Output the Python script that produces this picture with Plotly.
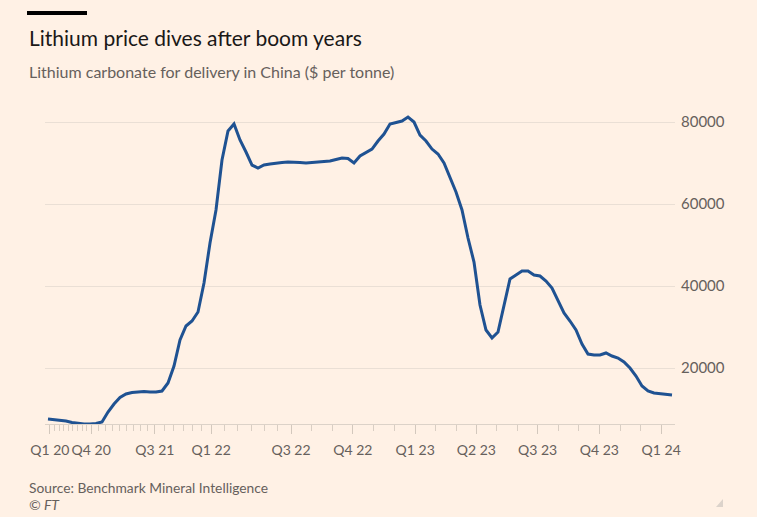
import plotly.graph_objects as go

# ---- data ----
prices = [
    7560, 7440, 7320, 7070, 6710, 6460, 6340, 6340, 6460, 6830,
    9270, 11220, 12800, 13660, 14020, 14150, 14270, 14150, 14150, 14390,
    16340, 20490, 26830, 30240, 31460, 33660, 40730, 50490, 58540, 70730,
    77800, 79510, 75610, 72680, 69510, 68780, 69510, 69760, 70000, 70120,
    70240, 70240, 70120, 70000, 70120, 70240, 70370, 70490, 70850, 71220,
    71100, 70000, 71710, 72560, 73410, 75370, 77070, 79510, 79880, 80240,
    81220, 80000, 76830, 75370, 73410, 72190, 70000, 66590, 62930, 58540,
    51710, 45850, 35370, 29270, 27320, 28780, 35370, 41710, 42680, 43660,
    43660, 42680, 42440, 41220, 39510, 36590, 33410, 31460, 29270, 25850,
    23410, 23170, 23170, 23660, 22930, 22440, 21460, 20000, 18050, 15610,
    14390, 13900, 13780, 13660, 13410,
]
obs = list(range(len(prices)))

quarter_labels = ["Q1 20", "Q4 20", "Q3 21", "Q1 22", "Q3 22", "Q4 22",
                  "Q1 23", "Q2 23", "Q3 23", "Q4 23", "Q1 24"]
quarter_obs = [0.3, 7.2, 17.8, 27.2, 40.5, 50.8, 61.2, 71.4, 81.6, 91.9, 102.2]
months_between = [9, 9, 6, 6, 3, 3, 3, 3, 3, 3]

y_ticks = [20000, 40000, 60000, 80000]

# minor (monthly) ticks between labelled quarters
minor_ticks = []
for a, b, m in zip(quarter_obs[:-1], quarter_obs[1:], months_between):
    for k in range(1, m):
        minor_ticks.append(a + (b - a) * k / m)
minor_ticks.append(quarter_obs[-1] + (quarter_obs[-1] - quarter_obs[-2]) / 3)

BG = "#FFF1E5"
FONT = "Lato"

# page geometry (pixels) -> paper coords helpers
W, H = 757, 517
PL, PR, PT, PB = 45, 675, 105, 424


def px(x):
    return (x - PL) / (PR - PL)


def py(y):
    return (PB - y) / (PB - PT)


fig = go.Figure()
fig.add_trace(go.Scatter(
    x=obs, y=prices, mode="lines",
    line=dict(color="#1f5292", width=3, shape="linear"),
    hoverinfo="skip", showlegend=False,
))

fig.update_layout(
    width=W, height=H,
    paper_bgcolor=BG, plot_bgcolor=BG,
    margin=dict(l=PL, r=W - PR, t=PT, b=H - PB, pad=0),
    font=dict(family=FONT, color="#66605c", size=14),
    xaxis=dict(
        range=[-0.5, 104.5],
        tickmode="array", tickvals=quarter_obs, ticktext=quarter_labels,
        ticks="outside", ticklen=9, tickwidth=1, tickcolor="#d3c8bd",
        showline=True, linecolor="#dcd2c8", linewidth=1,
        showgrid=False, zeroline=False,
        tickfont=dict(family=FONT, size=14, color="#66605c"),
        ticklabelstandoff=4,
        minor=dict(tickmode="array", tickvals=minor_ticks, ticks="outside",
                   ticklen=6, tickwidth=1, tickcolor="#d9cec3", showgrid=False),
    ),
    yaxis=dict(
        range=[6340, 84150], side="right",
        tickmode="array", tickvals=y_ticks, ticktext=[str(v) for v in y_ticks],
        ticks="", showline=False, zeroline=False,
        showgrid=True, gridcolor="#eadfd5", gridwidth=1,
        tickfont=dict(family=FONT, size=15, color="#66605c"),
        ticklabelstandoff=5,
    ),
    shapes=[
        dict(type="rect", xref="paper", yref="paper",
             x0=px(27), x1=px(87), y0=py(15), y1=py(11),
             fillcolor="#000000", line=dict(width=0), layer="above"),
        dict(type="path", xref="paper", yref="paper",
             path=f"M {px(716)},{py(507)} L {px(723)},{py(507)} L {px(723)},{py(499)} Z",
             fillcolor="#dcd3cb", line=dict(width=0)),
    ],
    annotations=[
        dict(text="Lithium price dives after boom years", xref="paper", yref="paper",
             x=px(27), y=py(38), xanchor="left", yanchor="middle", showarrow=False,
             font=dict(family=FONT, size=21, color="#1a1817")),
        dict(text="Lithium carbonate for delivery in China ($ per tonne)",
             xref="paper", yref="paper", x=px(27), y=py(71),
             xanchor="left", yanchor="middle", showarrow=False,
             font=dict(family=FONT, size=16, color="#66605c")),
        dict(text="Source: Benchmark Mineral Intelligence", xref="paper", yref="paper",
             x=px(27), y=py(487), xanchor="left", yanchor="middle", showarrow=False,
             font=dict(family=FONT, size=13.8, color="#66605c")),
        dict(text="<i>© FT</i>", xref="paper", yref="paper",
             x=px(27), y=py(504), xanchor="left", yanchor="middle", showarrow=False,
             font=dict(family=FONT, size=14, color="#66605c")),
    ],
)

fig.write_html("out.html", config={"displayModeBar": False},
               post_script="document.body.style.margin='0';")
